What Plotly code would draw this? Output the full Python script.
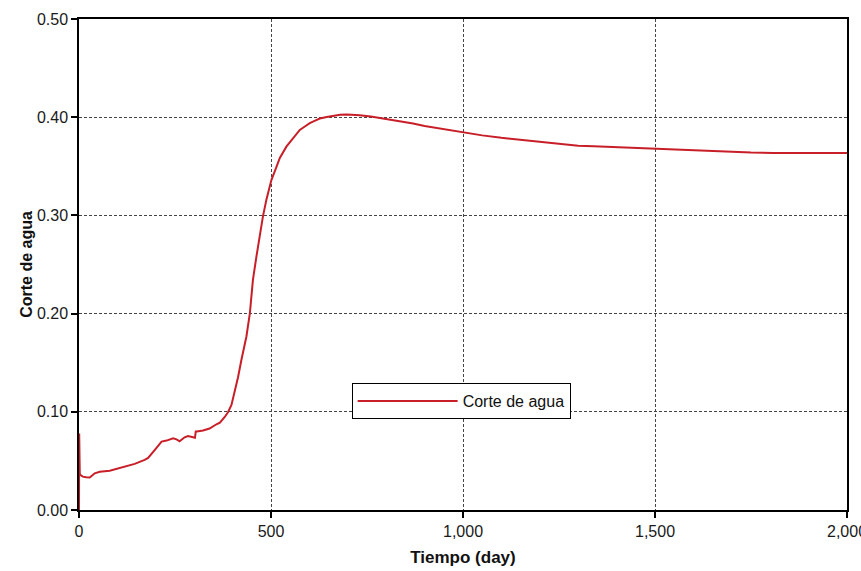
import plotly.graph_objects as go

# Water cut vs time
tiempo = [0, 0.5, 2, 4, 10, 19, 28, 41, 54, 80, 102, 123, 145, 171, 180, 197,
          215, 228, 245, 254, 262, 275, 284, 297, 302, 304, 307, 323, 340, 358,
          367, 380, 388, 397, 406, 414, 423, 436, 445, 453, 462, 471, 479, 488,
          501, 510, 523, 540, 558, 575, 590, 601, 615, 627, 645, 662, 680, 697,
          715, 731, 760, 783, 810, 836, 870, 900, 930, 970, 1000, 1050, 1100,
          1150, 1218, 1250, 1300, 1340, 1391, 1450, 1500, 1550, 1600, 1669,
          1700, 1750, 1808, 1900, 2000]
corte_agua = [0.0, 0.078, 0.037, 0.0355, 0.034, 0.0333, 0.033, 0.0374, 0.039,
              0.040, 0.0425, 0.045, 0.047, 0.051, 0.053, 0.061, 0.0697, 0.0707,
              0.073, 0.072, 0.070, 0.074, 0.0754, 0.074, 0.0735, 0.080, 0.080,
              0.081, 0.083, 0.0873, 0.089, 0.095, 0.0996, 0.107, 0.1206, 0.135,
              0.153, 0.1767, 0.2005, 0.2345, 0.258, 0.282, 0.299, 0.316, 0.336,
              0.345, 0.3585, 0.370, 0.379, 0.387, 0.391, 0.394, 0.3965, 0.3986,
              0.4003, 0.4016, 0.4025, 0.4027, 0.4025, 0.402, 0.4008, 0.3993,
              0.398, 0.396, 0.3935, 0.391, 0.389, 0.3865, 0.3846, 0.3815, 0.379,
              0.377, 0.3738, 0.373, 0.371, 0.3705, 0.3697, 0.3685, 0.3677, 0.367,
              0.366, 0.365, 0.3648, 0.364, 0.3636, 0.3636, 0.3636]

x_ticks = [0, 500, 1000, 1500, 2000]
y_ticks = [0.0, 0.1, 0.2, 0.3, 0.4, 0.5]

FONT = "Arial, Liberation Sans, sans-serif"
RED = "#C81E28"

fig = go.Figure()
fig.add_trace(go.Scatter(
    x=tiempo, y=corte_agua, mode="lines", name="Corte de agua",
    line=dict(color=RED, width=2),
))

axis_common = dict(
    showline=True, linecolor="black", linewidth=1.5, mirror=True,
    ticks="outside", ticklen=6, tickwidth=1.5, tickcolor="black",
    showgrid=True, gridcolor="#444444", gridwidth=1, griddash="3px,2px",
    zeroline=False, ticklabeloverflow="allow", automargin=False,
    tickfont=dict(family=FONT, size=16, color="#1a1a1a"),
)

fig.update_xaxes(
    range=[0, 2000], tickvals=x_ticks, tickformat=",d",
    title=dict(text="<b>Tiempo (day)</b>", font=dict(family=FONT, size=17, color="#111"),
               standoff=12),
    **axis_common,
)
fig.update_yaxes(
    range=[0, 0.5], tickvals=y_ticks, tickformat=".2f",
    title=dict(text="<b>Corte de agua</b>", font=dict(family=FONT, size=16, color="#111"),
               standoff=0),
    **axis_common,
)

fig.update_layout(
    width=861, height=571,
    margin=dict(l=79, r=14, t=19, b=61),
    paper_bgcolor="white", plot_bgcolor="white",
    font=dict(family=FONT),
    showlegend=True,
    legend=dict(
        x=0.355, y=0.222, xanchor="left", yanchor="middle",
        bgcolor="white", bordercolor="black", borderwidth=1,
        font=dict(family=FONT, size=16, color="#111"),
        itemwidth=100, tracegroupgap=0,
    ),
)

fig.write_html("out.html")
